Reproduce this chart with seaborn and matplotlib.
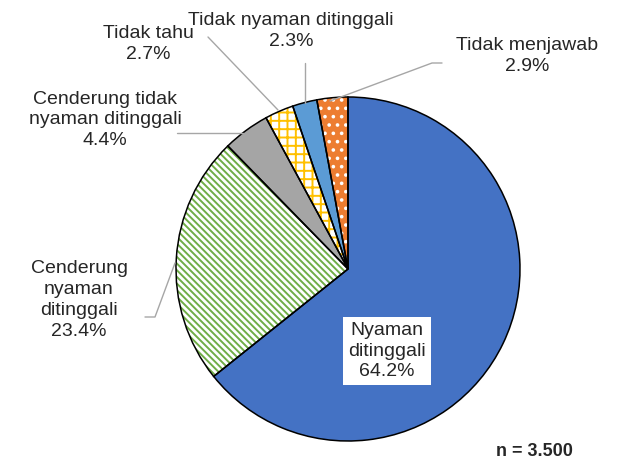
import matplotlib
matplotlib.use('Agg')
import matplotlib.pyplot as plt
from matplotlib.lines import Line2D
import seaborn as sns

# data
labels = ['Nyaman\nditinggali', 'Cenderung\nnyaman\nditinggali', 'Cenderung tidak\nnyaman ditinggali',
          'Tidak tahu', 'Tidak nyaman ditinggali', 'Tidak menjawab']
values = [64.2, 23.4, 4.4, 2.7, 2.3, 2.9]
face_colors = ['#4472C4', 'white', '#A5A5A5', 'white', '#5B9BD5', '#ED7D31']
hatch_colors = ['#4472C4', '#70AD47', '#A5A5A5', '#FFC000', '#5B9BD5', 'white']
hatches = ['', '\\' * 5, '', '++', '', '..']

sns.set_theme(style='white')
plt.rcParams['font.family'] = ['Liberation Sans', 'DejaVu Sans']
plt.rcParams['hatch.linewidth'] = 1.4

W, H = 619, 462
fig = plt.figure(figsize=(W / 100, H / 100), dpi=100)
cx, cy, r = 348, 269, 172
ax = fig.add_axes([(cx - r) / W, (H - cy - r) / H, 2 * r / W, 2 * r / H])

# fill + hatch layer
wedges, _ = ax.pie(values, startangle=90, counterclock=False, radius=1,
                   wedgeprops=dict(linewidth=0))
for w, fc, hc, h in zip(wedges, face_colors, hatch_colors, hatches):
    w.set_facecolor(fc)
    w.set_edgecolor(hc)
    w.set_hatch(h)
# outline layer
ax.pie(values, startangle=90, counterclock=False, radius=1,
       wedgeprops=dict(fill=False, edgecolor='black', linewidth=1.1))
ax.set_xlim(-1, 1)
ax.set_ylim(-1, 1)
ax.set_aspect('equal')
ax.axis('off')

txt_color = '#262626'


def ftext(x, y, s, **kw):
    fig.text(x / W, 1 - y / H, s, fontsize=14, color=txt_color, ha='center', va='center',
             linespacing=1.3, **kw)


def fline(pts):
    xs = [p[0] / W for p in pts]
    ys = [1 - p[1] / H for p in pts]
    fig.add_artist(Line2D(xs, ys, color='#A6A6A6', linewidth=1.0))


def lab(i):
    return f'{labels[i]}\n{values[i]}%'


ftext(387, 351, lab(0), bbox=dict(boxstyle='square,pad=0.25', fc='white', ec='none'))
ftext(79, 300, lab(1))
ftext(105, 120, lab(2))
ftext(148, 44, lab(3))
ftext(291, 31, lab(4))
ftext(527, 56, lab(5))

fline([(145, 317), (155, 317), (175, 263)])
fline([(177, 133), (243, 133)])
fline([(208, 37), (278, 110)])
fline([(305, 63), (305, 103)])
fline([(442, 63), (432, 63), (330, 101)])

fig.text(573 / W, 1 - 452 / H, 'n = 3.500', fontsize=13, fontweight='bold', color=txt_color,
         ha='right', va='center')

fig.savefig('out.png', dpi=100)
